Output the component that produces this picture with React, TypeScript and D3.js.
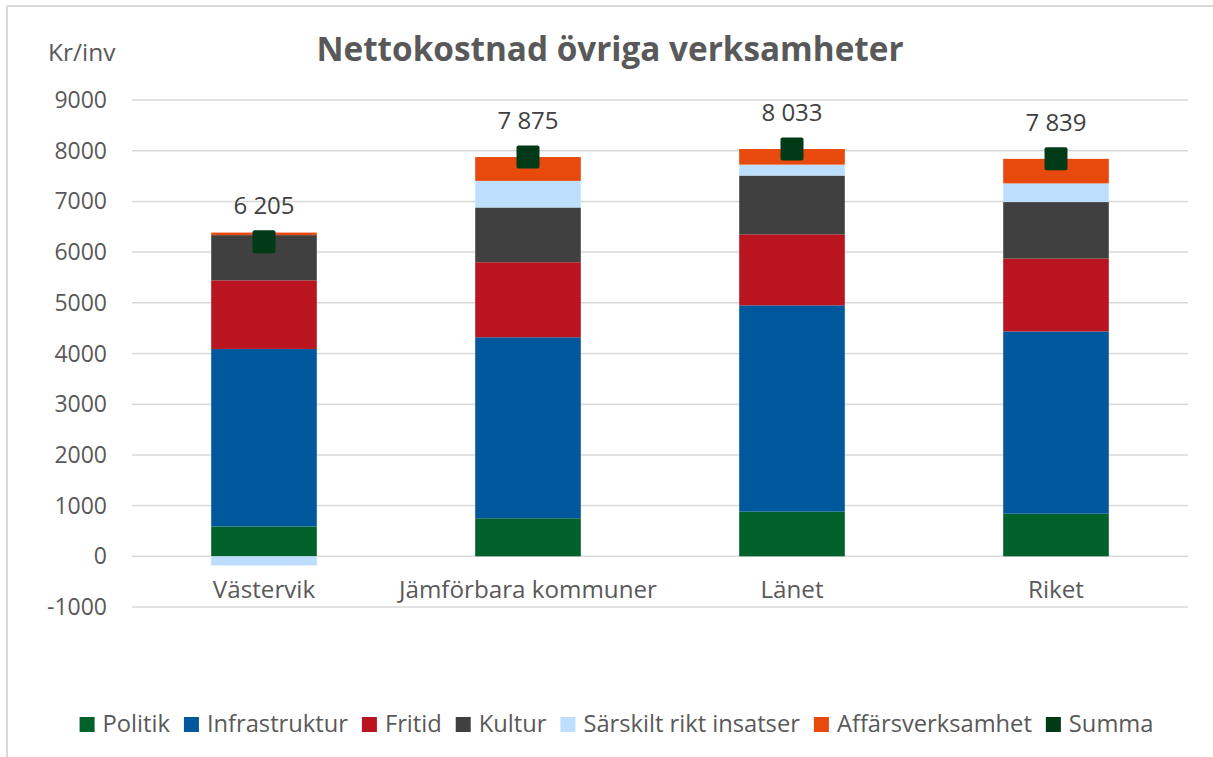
import React, { useEffect, useRef } from 'react';
import * as d3 from 'd3';

const categories = ['Västervik', 'Jämförbara kommuner', 'Länet', 'Riket'];

const politik = [590, 750, 880, 840];
const infrastruktur = [3500, 3570, 4070, 3595];
const fritid = [1353, 1480, 1400, 1437];
const kultur = [892, 1080, 1160, 1115];
const sarskilt = [-180, 525, 215, 368];
const affars = [50, 470, 308, 484];
const summa = [6205, 7875, 8033, 7839];

const yTicks = [-1000, 0, 1000, 2000, 3000, 4000, 5000, 6000, 7000, 8000, 9000];

const seriesNames = ['Politik', 'Infrastruktur', 'Fritid', 'Kultur', 'Särskilt rikt insatser', 'Affärsverksamhet'];
const seriesValues = [politik, infrastruktur, fritid, kultur, sarskilt, affars];
const seriesColors = ['#00622A', '#00589C', '#BA1420', '#404040', '#BDDFFD', '#E8490C'];
const summaColor = '#003A17';

const W = 1213;
const H = 757;
const plot = { left: 132, right: 1188, top: 100, bottom: 607 };
const font = '"Open Sans", sans-serif';

const fmt = d3.formatLocale({ decimal: ',', thousands: ' ', grouping: [3], currency: ['', ''] }).format(',');

export default function App() {
  const ref = useRef<SVGSVGElement>(null);

  useEffect(() => {
    const svg = d3.select(ref.current);
    svg.selectAll('*').remove();

    const rows = categories.map((c, i) => {
      const r: any = { cat: c };
      seriesNames.forEach((n, j) => (r[n] = seriesValues[j][i]));
      return r;
    });

    const x = d3.scaleBand().domain(categories).range([plot.left, plot.right]).paddingInner(0.6).paddingOuter(0.3);
    const y = d3.scaleLinear().domain([-1000, 9000]).range([plot.bottom, plot.top]);

    // frame (only left/top visible in reference)
    svg.append('line').attr('x1', 7).attr('x2', 7).attr('y1', 6).attr('y2', H).attr('stroke', '#d9d9d9').attr('stroke-width', 2);
    svg.append('line').attr('x1', 7).attr('x2', W).attr('y1', 6).attr('y2', 6).attr('stroke', '#d9d9d9').attr('stroke-width', 2);

    // grid
    svg.append('g')
      .selectAll('line')
      .data(yTicks)
      .join('line')
      .attr('x1', plot.left)
      .attr('x2', plot.right)
      .attr('y1', (d) => y(d))
      .attr('y2', (d) => y(d))
      .attr('stroke', '#d9d9d9')
      .attr('stroke-width', 1.5);

    svg.append('g')
      .selectAll('text')
      .data(yTicks)
      .join('text')
      .attr('x', 107)
      .attr('y', (d) => y(d) + 8)
      .attr('text-anchor', 'end')
      .attr('font-family', font)
      .attr('font-size', 23)
      .attr('fill', '#595959')
      .text((d) => String(d));

    // stacked bars
    const stack = d3.stack<any>().keys(seriesNames).offset(d3.stackOffsetDiverging);
    const layers = stack(rows);

    svg.append('g')
      .selectAll('g')
      .data(layers)
      .join('g')
      .attr('fill', (_, i) => seriesColors[i])
      .selectAll('rect')
      .data((d) => d)
      .join('rect')
      .attr('x', (d: any) => x(d.data.cat)!)
      .attr('width', x.bandwidth())
      .attr('y', (d) => y(Math.max(d[0], d[1])))
      .attr('height', (d) => Math.abs(y(d[0]) - y(d[1])));

    // category labels
    svg.append('g')
      .selectAll('text')
      .data(categories)
      .join('text')
      .attr('x', (d) => x(d)! + x.bandwidth() / 2)
      .attr('y', 598)
      .attr('text-anchor', 'middle')
      .attr('font-family', font)
      .attr('font-size', 24.2)
      .attr('fill', '#595959')
      .text((d) => d);

    // summa markers + labels
    const sum = svg.append('g');
    sum.selectAll('rect')
      .data(summa)
      .join('rect')
      .attr('x', (_, i) => x(categories[i])! + x.bandwidth() / 2 - 11.5)
      .attr('y', (d) => y(d) - 11.5)
      .attr('width', 23)
      .attr('height', 23)
      .attr('rx', 2)
      .attr('fill', summaColor);

    sum.selectAll('text')
      .data(summa)
      .join('text')
      .attr('x', (_, i) => x(categories[i])! + x.bandwidth() / 2)
      .attr('y', (d) => y(d) - 28)
      .attr('text-anchor', 'middle')
      .attr('font-family', font)
      .attr('font-size', 24)
      .attr('fill', '#404040')
      .text((d) => fmt(d));

    // titles
    svg.append('text')
      .attr('x', 610)
      .attr('y', 61)
      .attr('text-anchor', 'middle')
      .attr('font-family', font)
      .attr('font-weight', 'bold')
      .attr('font-size', 33.3)
      .attr('fill', '#595959')
      .text('Nettokostnad övriga verksamheter');

    svg.append('text')
      .attr('x', 48)
      .attr('y', 61)
      .attr('font-family', font)
      .attr('font-size', 24.5)
      .attr('fill', '#595959')
      .text('Kr/inv');

    // legend
    const legendItems = [...seriesNames, 'Summa'];
    const legendColors = [...seriesColors, summaColor];
    const lg = svg.append('g');
    const items = legendItems.map((name, i) => {
      const g = lg.append('g');
      g.append('rect').attr('width', 15).attr('height', 15).attr('y', -15).attr('fill', legendColors[i]);
      const t = g.append('text')
        .attr('x', 23)
        .attr('font-family', font)
        .attr('font-size', 23.7)
        .attr('fill', '#595959')
        .text(name);
      const w = (t.node() as SVGTextElement).getComputedTextLength();
      return { g, w: 23 + w };
    });
    const gap = 14;
    const total = d3.sum(items, (d) => d.w) + gap * (items.length - 1);
    let cx = 616.5 - total / 2;
    items.forEach((it) => {
      it.g.attr('transform', `translate(${cx},732)`);
      cx += it.w + gap;
    });
  }, []);

  return (
    <svg
      ref={ref}
      width={W}
      height={H}
      style={{ position: 'absolute', left: 0, top: 0, background: '#fff' }}
    />
  );
}
